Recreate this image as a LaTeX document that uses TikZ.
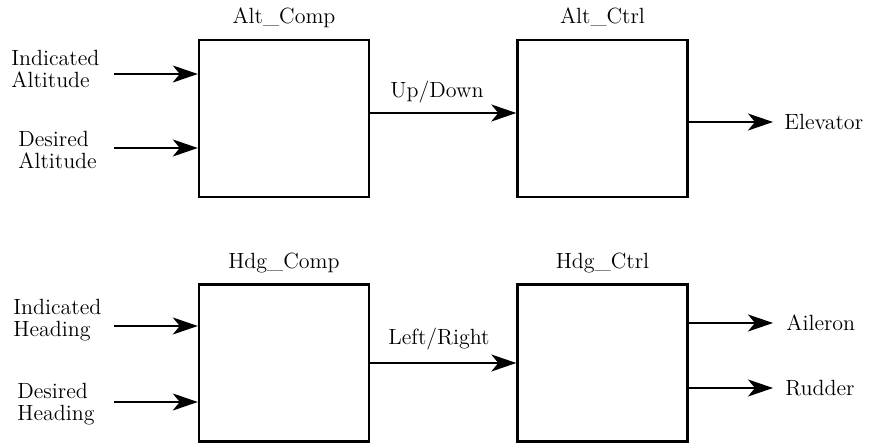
\documentclass[tikz,border=0pt]{standalone}
\usepackage{tikz}
\usetikzlibrary{arrows.meta}
\tikzset{
  blok/.style={draw, line width=1.2pt, minimum width=85pt, minimum height=78.5pt, inner sep=0pt},
  sig/.style={line width=1.2pt, -{Stealth[length=12.5pt,width=8.5pt,inset=3.5pt]}},
  lbl/.style={align=left, inner sep=0pt, font=\fontsize{11}{11}\selectfont},
}

\begin{document}
\begin{tikzpicture}[x=0.5pt,y=-0.5pt]
        \useasboundingbox (0,0) rectangle (875,443);

        % blocks
        \node[blok] (altcomp) at (284,118.5) {};
        \node[blok] (altctrl) at (602.5,118.5) {};
        \node[blok] (hdgcomp) at (284,363) {};
        \node[blok] (hdgctrl) at (602.5,363) {};

        % block names
        \node[lbl, anchor=base] (altcompname) at ([yshift=7.5pt]altcomp.north) {Alt\_Comp};
        \node[lbl, anchor=base] (altctrlname) at ([yshift=7.5pt]altctrl.north) {Alt\_Ctrl};
        \node[lbl, anchor=base] (hdgcompname) at ([yshift=7.5pt]hdgcomp.north) {Hdg\_Comp};
        \node[lbl, anchor=base] (hdgctrlname) at ([yshift=7.5pt]hdgctrl.north) {Hdg\_Ctrl};

        % inputs
        \coordinate (ialt) at (114,74);
        \coordinate (dalt) at (114,148);
        \coordinate (ihdg) at (114,326);
        \coordinate (dhdg) at (114,402);
        \node[lbl, anchor=west] (ialtlbl) at (11,68.5) {Indicated\\Altitude};
        \node[lbl, anchor=west] (daltlbl) at (18,149.5) {Desired\\Altitude};
        \node[lbl, anchor=west] (ihdglbl) at (13,320.5) {Indicated\\Heading};
        \node[lbl, anchor=west] (dhdglbl) at (17,404) {Desired\\Heading};
        \draw[sig] (ialt) -- (altcomp.west |- ialt);
        \draw[sig] (dalt) -- (altcomp.west |- dalt);
        \draw[sig] (ihdg) -- (hdgcomp.west |- ihdg);
        \draw[sig] (dhdg) -- (hdgcomp.west |- dhdg);

        % between blocks
        \coordinate (updown) at (443,113);
        \coordinate (leftright) at (443,363);
        \draw[sig] (altcomp.east |- updown) -- (altctrl.west |- updown);
        \draw[sig] (hdgcomp.east |- leftright) -- (hdgctrl.west |- leftright);
        \node[lbl, anchor=base] (updownlbl) at (437,98) {Up/Down};
        \node[lbl, anchor=base] (leftrightlbl) at (439,345) {Left/Right};

        % outputs
        \coordinate (elev) at (773,122);
        \coordinate (ail) at (773,323);
        \coordinate (rud) at (773,388);
        \draw[sig] (altctrl.east |- elev) -- (elev);
        \draw[sig] (hdgctrl.east |- ail) -- (ail);
        \draw[sig] (hdgctrl.east |- rud) -- (rud);
        \node[lbl, anchor=west] (elevlbl) at ([xshift=5.5pt]elev) {Elevator};
        \node[lbl, anchor=west] (aillbl) at ([xshift=6.5pt]ail) {Aileron};
        \node[lbl, anchor=west] (rudlbl) at ([xshift=6pt]rud) {Rudder};
    \end{tikzpicture}
\end{document}
